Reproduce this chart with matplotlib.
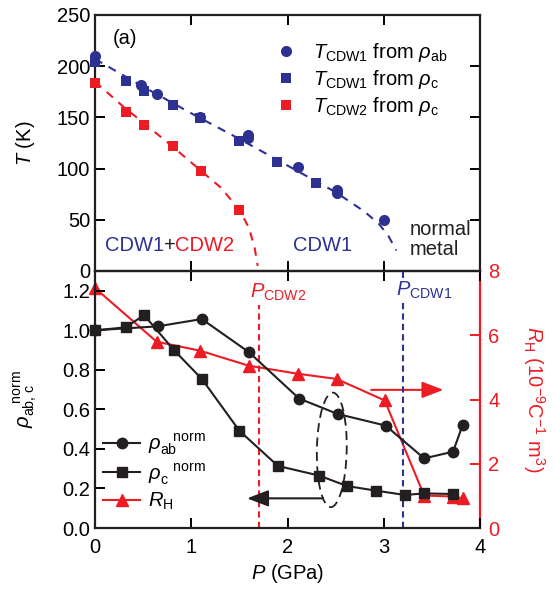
import matplotlib
matplotlib.use("Agg")
import matplotlib.pyplot as plt
from matplotlib.patches import Ellipse

plt.rcParams['font.family'] = ['Liberation Sans', 'DejaVu Sans']
plt.rcParams['mathtext.fontset'] = 'custom'
plt.rcParams['mathtext.rm'] = 'Liberation Sans'
plt.rcParams['mathtext.it'] = 'Liberation Sans:italic'
plt.rcParams['mathtext.bf'] = 'Liberation Sans:bold'

BLUE = '#2D3192'
RED = '#ED1C24'
BLACK = '#231F20'

# ---------------- data: panel (a) ----------------
P_cdw1_ab = [0.0, 0.48, 0.64, 1.09, 1.59, 1.59, 2.11, 2.51, 2.51, 3.0]
T_cdw1_ab = [210, 182, 173, 150, 133, 130, 102, 79, 76, 50]
P_cdw1_c = [0.0, 0.32, 0.51, 0.81, 1.09, 1.50, 1.89, 2.30]
T_cdw1_c = [204, 186, 176, 162, 149, 127, 106, 86]
P_cdw2_c = [0.0, 0.32, 0.51, 0.81, 1.10, 1.50]
T_cdw2_c = [184, 155, 143, 122, 98, 60]
# guide-to-the-eye dashed curves
P_guide1 = [0.0, 0.5, 1.0, 1.5, 2.0, 2.5, 2.8, 2.95, 3.05, 3.13]
T_guide1 = [207, 180, 154, 129, 103, 77, 58, 46, 34, 20]
P_guide2 = [0.0, 0.3, 0.5, 0.8, 1.1, 1.3, 1.5, 1.6, 1.66, 1.69]
T_guide2 = [185, 160, 145, 122, 98, 82, 60, 42, 22, 5]

# ---------------- data: panel (b) ----------------
P_rho_ab = [0.0, 0.65, 1.11, 1.60, 2.12, 2.52, 3.02, 3.42, 3.72, 3.82]
rho_ab = [1.0, 1.02, 1.057, 0.889, 0.655, 0.577, 0.518, 0.352, 0.386, 0.521]
P_rho_c = [0.0, 0.32, 0.51, 0.82, 1.11, 1.50, 1.90, 2.33, 2.62, 2.92, 3.22, 3.42, 3.72]
rho_c = [1.0, 1.015, 1.077, 0.90, 0.754, 0.492, 0.314, 0.265, 0.212, 0.189, 0.167, 0.175, 0.172]
P_RH = [0.0, 0.64, 1.09, 1.60, 2.11, 2.51, 3.01, 3.42, 3.72, 3.82]
RH = [7.47, 5.80, 5.52, 5.05, 4.80, 4.64, 3.97, 1.01, 0.98, 0.92]
P_cdw2_crit = 1.70
P_cdw1_crit = 3.20

x_ticks = [0, 1, 2, 3, 4]
T_ticks = [0, 50, 100, 150, 200, 250]
rho_ticks = [0.0, 0.2, 0.4, 0.6, 0.8, 1.0, 1.2]
RH_ticks = [0, 2, 4, 6, 8]

fig = plt.figure(figsize=(5.55, 5.95), dpi=100)
L, W = 95 / 555, (480 - 95) / 555
axa = fig.add_axes([L, 1 - 271 / 595, W, 256 / 595])
axb = fig.add_axes([L, 1 - 528 / 595, W, 257 / 595])

FS = 14.5
tick_kw = dict(direction='in', length=7, width=1.4, labelsize=FS)
for ax in (axa, axb):
    for s in ax.spines.values():
        s.set_linewidth(1.6)
        s.set_color(BLACK)

# ---------- panel (a) ----------
axa.plot(P_guide1, T_guide1, color=BLUE, lw=1.5, dashes=(4, 3.5))
axa.plot(P_guide2, T_guide2, color=RED, lw=1.5, dashes=(4, 3.5))
axa.plot(P_cdw1_ab, T_cdw1_ab, 'o', color=BLUE, ms=8, mew=0, clip_on=False, zorder=4,
         label=r'$T_{\rm CDW1}$ from $\rho_{\rm ab}$')
axa.plot(P_cdw1_c, T_cdw1_c, 's', color=BLUE, ms=7.5, mew=0, clip_on=False, zorder=4,
         label=r'$T_{\rm CDW1}$ from $\rho_{\rm c}$')
axa.plot(P_cdw2_c, T_cdw2_c, 's', color=RED, ms=7.5, mew=0, clip_on=False, zorder=4,
         label=r'$T_{\rm CDW2}$ from $\rho_{\rm c}$')
axa.set_xlim(0, 4)
axa.set_ylim(0, 250)
axa.set_xticks(x_ticks)
axa.set_yticks(T_ticks)
axa.tick_params(axis='both', which='both', top=True, right=True, labelbottom=False, **tick_kw)
axa.set_ylabel(r'$T$ (K)', fontsize=FS)
axa.yaxis.set_label_coords(-0.15, 0.5)
axa.legend(loc='upper left', bbox_to_anchor=(0.455, 0.93), frameon=False, fontsize=FS,
           handlelength=0.8, handletextpad=0.95, labelspacing=0.2, borderaxespad=0.0,
           borderpad=0.4)
axa.text(0.31, 227, '(a)', fontsize=FS, ha='center', va='center')
t1 = axa.text(0.10, 25, 'CDW1', fontsize=FS, color=BLUE, va='center')
t2 = axa.annotate('+', xy=(1, 0), xycoords=t1, va='bottom', fontsize=FS, color=BLACK)
axa.annotate('CDW2', xy=(1, 0), xycoords=t2, va='bottom', fontsize=FS, color=RED)
axa.text(2.36, 25, 'CDW1', fontsize=FS, color=BLUE, ha='center', va='center')
axa.text(3.27, 31, 'normal\nmetal', fontsize=FS, color=BLACK, ha='left', va='center',
         linespacing=1.05)

# ---------- panel (b) ----------
axb2 = axb.twinx()
axb.set_zorder(axb2.get_zorder() + 1)
axb.patch.set_visible(False)

axb.plot([P_cdw2_crit, P_cdw2_crit], [0, 1.15], color=RED, lw=1.5, dashes=(3, 2))
axb.plot([P_cdw1_crit, P_cdw1_crit], [0, 1.3], color=BLUE, lw=1.5, dashes=(3, 2))
axb.text(1.61, 1.19, r'$P_{\rm CDW2}$', fontsize=FS, color=RED, va='center',
         bbox=dict(facecolor='white', edgecolor='none', pad=1))
axb.text(3.13, 1.20, r'$P_{\rm CDW1}$', fontsize=FS, color=BLUE, va='center',
         bbox=dict(facecolor='white', edgecolor='none', pad=1))

l1, = axb.plot(P_rho_ab, rho_ab, '-o', color=BLACK, lw=1.5, ms=7.5, clip_on=False, zorder=5)
l2, = axb.plot(P_rho_c, rho_c, '-s', color=BLACK, lw=1.5, ms=7, clip_on=False, zorder=5)
l3, = axb2.plot(P_RH, RH, '-^', color=RED, lw=1.5, ms=8.5, clip_on=False, zorder=5)
axb2.set_ylim(0, 8)

axb.annotate('', xy=(1.58, 0.15), xytext=(2.37, 0.15),
             arrowprops=dict(arrowstyle='-|>,head_length=1.3,head_width=0.5', color=BLACK, lw=1.5,
                             shrinkA=0, shrinkB=0))
axb2.annotate('', xy=(3.62, 4.30), xytext=(2.87, 4.30),
              arrowprops=dict(arrowstyle='-|>,head_length=1.3,head_width=0.5', color=RED, lw=1.5,
                              shrinkA=0, shrinkB=0))
axb.add_patch(Ellipse((2.46, 0.395), 0.31, 0.58, angle=-3, fill=False, edgecolor=BLACK,
                      lw=1.3, linestyle=(0, (5, 3))))

axb.set_xlim(0, 4)
axb.set_ylim(0, 1.3)
axb.set_xticks(x_ticks)
axb.set_yticks(rho_ticks)
axb.set_yticklabels([f'{v:.1f}' for v in rho_ticks])
axb.tick_params(axis='both', which='both', top=True, right=False, **tick_kw)
axb.tick_params(axis='x', pad=7)
axb2.set_yticks(RH_ticks)
axb2.tick_params(axis='y', direction='in', length=7, width=1.4, labelsize=FS, colors=RED, pad=6)
axb2.spines['right'].set_color(RED)
axb2.spines['right'].set_linewidth(1.6)
for s in ('left', 'top', 'bottom'):
    axb2.spines[s].set_visible(False)
axb.spines['right'].set_visible(False)

axb.set_xlabel(r'$P$ (GPa)', fontsize=FS, labelpad=4)
axb.set_ylabel(r'$\rho_{\rm ab,\,c}^{\ \ \ \rm norm}$', fontsize=FS)
axb.yaxis.set_label_coords(-0.145, 0.5)
axb2.set_ylabel(r'$R_{\rm H}$ (10$^{-9}$C$^{-1}$ m$^{3}$)', fontsize=FS, color=RED, rotation=270,
                labelpad=14)
axb2.yaxis.set_label_coords(1.175, 0.5)

axb.legend([l1, l2, l3],
           [r'$\rho_{\rm ab}^{\ \ \ \rm norm}$', r'$\rho_{\rm c}^{\ \ \ \rm norm}$', r'$R_{\rm H}$'],
           loc='lower left', bbox_to_anchor=(0.0, 0.03), frameon=False, fontsize=FS,
           handlelength=1.85, handletextpad=0.4, labelspacing=0.2, borderaxespad=0.0)

fig.savefig('out.png', dpi=100)
